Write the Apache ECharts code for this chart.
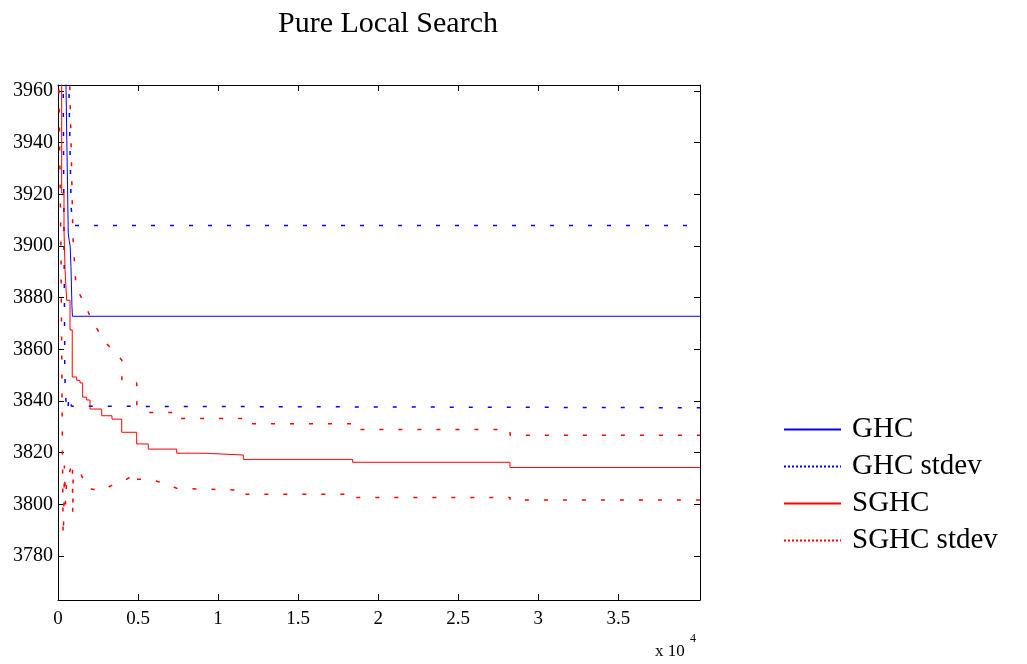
<!DOCTYPE html>
<html>
<head>
<meta charset="utf-8">
<script src="https://cdn.jsdelivr.net/npm/echarts@6/dist/echarts.min.js"></script>
<style>
html,body{margin:0;padding:0;background:#fff;}
#chart{width:1027px;height:664px;}
</style>
</head>
<body>
<div id="chart"></div>
<script>
// ---- data (x = iterations, y = cost) ----
const titleText = 'Pure Local Search';
const seriesNames = ['GHC', 'GHC stdev', 'SGHC', 'SGHC stdev'];
const yTicks = [3780, 3800, 3820, 3840, 3860, 3880, 3900, 3920, 3940, 3960];
const xTicks = [0, 5000, 10000, 15000, 20000, 25000, 30000, 35000];

const ghcMean = [[0,4300],[400,4000],[500,3962],[640,3905],[700,3902],[760,3900],[810,3892],[870,3877],[900,3872.8],[40100,3872.8]];
const ghcUpper = [[0,4400],[600,4050],[650,3975],[700,3955],[760,3935],[820,3915],[900,3910],[1000,3907.9],[40100,3907.9]];
const ghcLower = [[0,4150],[300,3990],[370,3910],[400,3880],[420,3855],[450,3845],[520,3838],[600,3836],[690,3842],[760,3840],[850,3838],[900,3837.4],[40100,3837.4]];

const sghcMean = [[0,4150],[230,3920.5],[375,3906],[440,3891],[540,3879],[750,3867.5],[890,3849.3],[1170,3848],[1375,3847],[1540,3841.5],[1790,3840.4],[2000,3836.9],[2730,3834.3],[3370,3833.0],[3980,3827.9],[4915,3823.4],[5640,3821.4],[7415,3819.8],[9180,3819.1],[11575,3817.4],[18405,3816.3],[28230,3814.3],[40100,3814.3]];
const sghcUpper = [[0,4300],[600,4000],[850,3930],[905,3912],[930,3904],[1125,3884],[1580,3878.7],[2000,3872.9],[2440,3867.9],[2870,3863.3],[3415,3859.7],[3980,3855.9],[3990,3847.7],[4915,3847],[4925,3838],[5640,3835.6],[7415,3835.6],[7420,3833.2],[11575,3833.2],[11580,3831.2],[18405,3831.2],[18410,3829.0],[28230,3829.0],[28240,3826.8],[40100,3826.8]];
const sghcLower = [[0,3990],[180,3900],[280,3820],[320,3788],[360,3795],[400,3815],[470,3800],[560,3812],[700,3812],[900,3816.5],[920,3796],[950,3812],[1420,3812],[1790,3806.2],[2730,3805.3],[3400,3807.5],[4200,3809.4],[4915,3812.2],[4930,3809.7],[5640,3809.7],[6680,3808.2],[7415,3806.2],[7420,3805.5],[11575,3805.5],[11580,3803.9],[18405,3803.9],[18410,3802.7],[28230,3802.7],[28240,3801.7],[40100,3801.7]];

// ---- styling ----
const FONT = "'Liberation Serif','DejaVu Serif',serif";
const BLUE = '#0000ff', RED = '#ff0000';
const dotted = [4, 15];

const chart = echarts.init(document.getElementById('chart'), null, {renderer: 'canvas'});

function lineSeries(name, data, color, dash, z, step) {
  return {
    name: name, type: 'line', data: data, step: step || false,
    showSymbol: false, symbol: 'none', clip: true, animation: false, z: z,
    lineStyle: {color: color, width: dash ? 1.5 : 1, type: dash ? dotted : 'solid'},
    itemStyle: {color: color}
  };
}

const axisCommonX = {
  type: 'value', min: 0, max: 40100,
  axisLine: {show: true, onZero: false, lineStyle: {color: '#000', width: 1}},
  axisTick: {show: true, inside: true, length: 6, customValues: xTicks, lineStyle: {color: '#000'}},
  splitLine: {show: false}
};
const axisCommonY = {
  type: 'value', min: 3763, max: 3962.3,
  axisLine: {show: true, onZero: false, lineStyle: {color: '#000', width: 1}},
  axisTick: {show: true, inside: true, length: 6, customValues: yTicks, lineStyle: {color: '#000'}},
  splitLine: {show: false}
};

function legendItem(name, color, dash) {
  return {name: name,
    itemStyle: {color: 'rgba(0,0,0,0)', borderWidth: 0, opacity: 0},
    lineStyle: {color: color, width: 2, opacity: 1, type: dash ? [2, 2] : 'solid'}};
}

const option = {
  backgroundColor: '#fff',
  animation: false,
  title: {
    text: titleText, left: 383, top: 4, textAlign: 'center',
    textStyle: {fontFamily: FONT, fontSize: 30, fontWeight: 'normal', color: '#000'}
  },
  grid: {left: 58, top: 85, width: 642, height: 515, containLabel: false},
  legend: {
    orient: 'vertical', left: 783, top: 415, padding: 0, itemWidth: 57, itemHeight: 14, itemGap: 8,
    textStyle: {fontFamily: FONT, fontSize: 29, color: '#000', lineHeight: 28, padding: [0,0,0,6]},
    data: [
      legendItem(seriesNames[0], BLUE, false),
      legendItem(seriesNames[1], BLUE, true),
      legendItem(seriesNames[2], RED, false),
      legendItem(seriesNames[3], RED, true)
    ]
  },
  xAxis: [
    Object.assign({}, axisCommonX, {
      position: 'bottom',
      axisLabel: {show: true, customValues: xTicks, margin: 10, color: '#000', fontFamily: FONT, fontSize: 19,
        formatter: v => String(Math.round(v / 1000) / 10)}
    }),
    Object.assign({}, axisCommonX, {position: 'top', axisLabel: {show: false}})
  ],
  yAxis: [
    Object.assign({}, axisCommonY, {
      position: 'left',
      axisLabel: {show: true, customValues: yTicks, margin: 5, color: '#000', fontFamily: FONT, fontSize: 20,
        formatter: v => String(Math.round(v))}
    }),
    Object.assign({}, axisCommonY, {position: 'right', axisLabel: {show: false}})
  ],
  series: [
    lineSeries(seriesNames[0], ghcMean, BLUE, false, 2),
    lineSeries(seriesNames[1], ghcUpper, BLUE, true, 2),
    lineSeries(seriesNames[1], ghcLower, BLUE, true, 2),
    lineSeries(seriesNames[2], sghcMean, RED, false, 3, 'end'),
    lineSeries(seriesNames[3], sghcUpper, RED, true, 3),
    lineSeries(seriesNames[3], sghcLower, RED, true, 3)
  ],
  graphic: [
    {type: 'text', left: 655, top: 643, style: {text: 'x 10', font: "17px " + FONT, fill: '#000'}},
    {type: 'text', left: 690, top: 633, style: {text: '4', font: "12px " + FONT, fill: '#000'}}
  ]
};
chart.setOption(option);
</script>
</body>
</html>
